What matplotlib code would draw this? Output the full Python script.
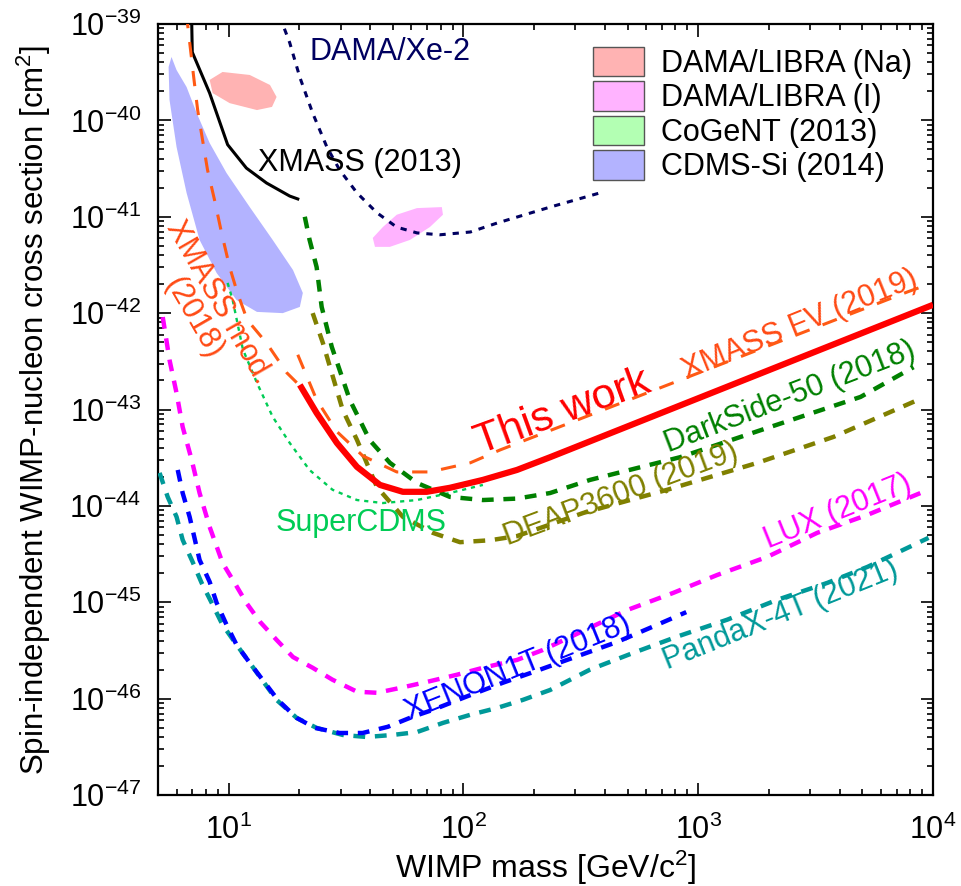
import matplotlib
matplotlib.use("Agg")
import matplotlib.pyplot as plt
from matplotlib.patches import Patch
from matplotlib.ticker import LogLocator, FixedLocator, FixedFormatter, NullFormatter

plt.rcParams['font.family'] = ['Liberation Sans', 'DejaVu Sans']
plt.rcParams['mathtext.fontset'] = 'custom'
plt.rcParams['mathtext.rm'] = 'Liberation Sans'
plt.rcParams['mathtext.default'] = 'regular'
plt.rcParams['lines.scale_dashes'] = False

# exclusion limits: WIMP mass [GeV/c^2], cross section [cm^2]
this_work_m = [20.1, 23.7, 28.9, 35.2, 44.1, 55.2, 69.8, 87.5, 121, 169, 234, 10000]
this_work_s = [1.8e-43, 9.2e-44, 4.5e-44, 2.54e-44, 1.65e-44, 1.40e-44, 1.40e-44,
               1.54e-44, 1.86e-44, 2.36e-44, 3.2e-44, 1.22e-42]

xmass_mod_m = [6.6, 7.1, 7.38, 7.74, 8.13, 8.71, 9.33, 10.1, 10.9, 12.0, 14.5, 17.7, 19.5]
xmass_mod_s = [1.3e-39, 2.8e-40, 1.28e-40, 6.3e-41, 3.06e-41, 1.49e-41, 6.8e-42, 3.0e-42,
               1.62e-42, 8.5e-43, 4.9e-43, 2.4e-43, 1.9e-43]

xmass_fv_m = [19.7, 23.7, 28.9, 37.3, 52, 72, 107, 143, 7780, 8850]
xmass_fv_s = [3.7e-43, 1.26e-43, 5.9e-44, 3.3e-44, 2.25e-44, 2.25e-44, 2.8e-44, 3.8e-44,
              1.66e-42, 1.86e-42]

xmass13_m = [6.95, 7.0, 8.3, 9.9, 11.9, 14.5, 18.2, 19.7]
xmass13_s = [1.3e-39, 5.1e-40, 1.92e-40, 5.6e-41, 3.2e-41, 2.24e-41, 1.64e-41, 1.53e-41]

dama_xe_m = [16.5, 18.2, 20.1, 22.8, 26.2, 29.7, 35.2, 42.8, 52, 63.4, 79.4, 107, 139, 234, 382]
dama_xe_s = [1.2e-39, 6.4e-40, 2.8e-40, 1.19e-40, 5.3e-41, 3.06e-41, 1.77e-41, 1.1e-41, 7.8e-42,
             6.8e-42, 6.5e-42, 6.95e-42, 8.6e-42, 1.26e-41, 1.77e-41]

darkside_m = [21.1, 22.1, 23.7, 24.9, 27.5, 32.8, 39.9, 48.6, 63.4, 87.5, 121, 169, 234, 346,
              837, 2030, 4910, 8260]
darkside_s = [1.0e-41, 5.8e-42, 3.0e-42, 1.16e-42, 4.46e-43, 1.26e-43, 4.8e-44, 2.8e-44,
              1.73e-44, 1.24e-44, 1.15e-44, 1.19e-44, 1.36e-44, 1.86e-44, 3.2e-44, 6.6e-44,
              1.35e-43, 2.75e-43]

deap_m = [22.8, 25.2, 27.8, 30.6, 35.2, 42.8, 55.2, 74.1, 96.7, 130, 169, 324, 738, 1790,
          3770, 9020]
deap_s = [1.0e-42, 4.9e-43, 2.18e-43, 9.9e-44, 4.84e-44, 1.57e-44, 7.7e-45, 5.25e-45,
          4.2e-45, 4.4e-45, 4.86e-45, 8.45e-45, 1.47e-44, 2.8e-44, 5.2e-44, 1.32e-43]

supercdms_m = [9.9, 10.4, 11.5, 13.2, 15.4, 18.2, 22.1, 27.7, 35.2, 45.4, 63.4, 87.5, 121]
supercdms_s = [2.06e-42, 1.37e-42, 4.2e-43, 1.89e-43, 8.4e-44, 4.5e-44, 2.36e-44, 1.47e-44,
               1.15e-44, 1.07e-44, 1.15e-44, 1.36e-44, 1.65e-44]

lux_m = [5.24, 5.6, 6.0, 6.37, 6.96, 7.52, 8.3, 9.42, 10.6, 11.9, 13.6, 16.0, 18.8, 22.8,
         27.7, 35.2, 42.8, 53.6, 69.8, 93.8, 121, 169, 218, 498, 782, 1205, 1970, 3210,
         5260, 9100]
lux_s = [9.1e-43, 3.27e-43, 1.48e-43, 6.6e-44, 3.0e-44, 1.36e-44, 6.05e-45, 2.56e-45,
         1.59e-45, 9.85e-46, 6.27e-46, 4.07e-46, 2.7e-46, 2.09e-46, 1.57e-46, 1.18e-46,
         1.15e-46, 1.29e-46, 1.49e-46, 1.77e-46, 2.09e-46, 2.52e-46, 3.2e-46, 8.3e-46,
         1.25e-45, 1.92e-45, 2.96e-45, 5.25e-45, 8.07e-45, 1.4e-44]

xenon_m = [6.07, 6.37, 6.82, 7.52, 8.3, 8.89, 9.8, 10.8, 12.3, 16.2, 19.5, 23.3, 29.7,
           37.2, 47.6, 60.9, 74.1, 103, 147, 212, 452, 668, 889]
xenon_s = [2.36e-44, 1.36e-44, 7.7e-45, 2.75e-45, 1.63e-45, 9.85e-46, 5.83e-46, 3.63e-46,
           2.35e-46, 9.7e-47, 6.3e-47, 4.97e-47, 4.4e-47, 4.4e-47, 5.1e-47, 6.5e-47,
           7.65e-47, 1.05e-46, 1.46e-46, 2.0e-46, 3.88e-46, 5.83e-46, 7.9e-46]

pandax_m = [5.08, 5.5, 6.0, 6.37, 7.02, 7.67, 8.47, 9.42, 10.8, 12.3, 16.0, 19.5, 23.7,
            30.6, 38.7, 50, 63.4, 81.8, 107, 139, 179, 234, 346, 528, 813, 1330, 2170,
            3550, 5260, 9570]
pandax_s = [2.2e-44, 1.24e-44, 7.7e-45, 4.44e-45, 2.63e-45, 1.59e-45, 9.85e-46, 5.83e-46,
            3.63e-46, 2.35e-46, 9.7e-47, 6.3e-47, 4.97e-47, 4.2e-47, 4.0e-47, 4.2e-47,
            4.5e-47, 5.6e-47, 6.8e-47, 8.0e-47, 9.7e-47, 1.23e-46, 2.0e-46, 2.98e-46,
            4.4e-46, 6.6e-46, 1.06e-45, 1.59e-45, 2.33e-45, 4.66e-45]

# allowed regions (closed contours)
dama_na_m = [8.3, 9.42, 12.3, 15.0, 16.0, 15.3, 13.2, 10.1, 8.55]
dama_na_s = [2.63e-40, 3.18e-40, 2.96e-40, 2.33e-40, 1.75e-40, 1.38e-40, 1.28e-40, 1.51e-40, 1.92e-40]

dama_i_m = [41.1, 45.4, 52, 63.4, 80.9, 81.8, 72, 59.2, 48.6, 42]
dama_i_s = [6.03e-42, 7.83e-42, 1.05e-41, 1.23e-41, 1.26e-41, 1.05e-41, 7.83e-42, 5.75e-42,
            4.87e-42, 4.87e-42]

cogent_m = [6.95, 7.52, 8.47, 8.98, 8.71, 7.91, 7.16]
cogent_s = [4.6e-41, 4.17e-41, 3.29e-41, 2.59e-41, 2.52e-41, 2.92e-41, 3.61e-41]

cdms_si_m = [5.71, 6.0, 6.62, 7.31, 8.3, 9.8, 12.3, 15.4, 18.8, 20.7, 20.1, 17.0, 13.2,
             10.8, 8.89, 7.52, 6.62, 6.0, 5.6, 5.55]
cdms_si_s = [4.55e-40, 3.33e-40, 2.22e-40, 1.19e-40, 5.83e-41, 2.84e-41, 1.26e-41, 5.75e-42,
             2.8e-42, 1.62e-42, 1.16e-42, 1.0e-42, 1.03e-42, 1.37e-42, 2.61e-42, 5.75e-42,
             1.77e-41, 5.3e-41, 1.63e-40, 3.58e-40]

region_labels = ['DAMA/LIBRA (Na)', 'DAMA/LIBRA (I)', 'CoGeNT (2013)', 'CDMS-Si (2014)']
region_colors = ['#ffb3b3', '#ffb3ff', '#b3ffb3', '#b3b3ff']

xticks = [1e1, 1e2, 1e3, 1e4]
xticklabels = ['$10^{1}$', '$10^{2}$', '$10^{3}$', '$10^{4}$']
yticks = [10.0 ** e for e in range(-47, -38)]
yticklabels = ['$10^{%d}$' % e for e in range(-47, -38)]

FS = 22

fig = plt.figure(figsize=(9.62, 8.86), dpi=100)
ax = fig.add_axes([0.1642, 0.1027, 0.8057, 0.8702])
ax.set_xscale('log')
ax.set_yscale('log')
ax.set_xlim(5, 1e4)
ax.set_ylim(1e-47, 1e-39)

# regions
for (m, s), c in zip([(dama_na_m, dama_na_s), (dama_i_m, dama_i_s),
                      (cogent_m, cogent_s), (cdms_si_m, cdms_si_s)], region_colors):
    ax.fill(m, s, color=c, lw=0, zorder=1)

# limit curves
ax.plot(dama_xe_m, dama_xe_s, color='#000060', lw=2.2, dashes=(4.5, 5), zorder=3)
ax.plot(xmass13_m, xmass13_s, color='black', lw=2.2, zorder=3)
ax.plot(supercdms_m, supercdms_s, color='#00cc55', lw=1.7, dashes=(3, 3.5), zorder=3)
ax.plot(darkside_m, darkside_s, color='#008000', lw=3.2, dashes=(8.5, 7), zorder=3)
ax.plot(deap_m, deap_s, color='#808000', lw=3.2, dashes=(8.5, 7), zorder=3)
ax.plot(lux_m, lux_s, color='#ff00ff', lw=3.2, dashes=(8.5, 7), zorder=3)
ax.plot(pandax_m, pandax_s, color='#009999', lw=3.2, dashes=(8.5, 7), zorder=3)
ax.plot(xenon_m, xenon_s, color='#0000ff', lw=3.2, dashes=(8.5, 7), zorder=3)
ax.plot(xmass_mod_m, xmass_mod_s, color='#ff5a14', lw=2.2, dashes=(11, 10), zorder=4)
ax.plot(xmass_fv_m, xmass_fv_s, color='#ff5a14', lw=2.2, dashes=(11, 10), zorder=4)
ax.plot(this_work_m, this_work_s, color='#ff0000', lw=4.5, zorder=5,
        solid_capstyle='butt')

# curve labels
ax.text(22.1, 5.1e-40, 'DAMA/Xe-2', color='#000060', fontsize=FS, va='center')
ax.text(13.3, 3.6e-41, 'XMASS (2013)', color='black', fontsize=FS, va='center')
ax.text(8.0, 1.08e-42, 'XMASS mod.\n(2018)', color='#ff4a14', fontsize=FS,
        rotation=-60, ha='center', va='center', multialignment='center',
        linespacing=1.0, rotation_mode='anchor')
ax.text(265, 9.4e-44, 'This work', color='#ff0000', fontsize=31, rotation=20,
        ha='center', va='center', rotation_mode='anchor')
ax.text(2720, 7.55e-43, 'XMASS FV (2019)', color='#ff4a14', fontsize=FS, rotation=22,
        ha='center', va='center', rotation_mode='anchor')
ax.text(2470, 1.35e-43, 'DarkSide-50 (2018)', color='#008000', fontsize=FS, rotation=21,
        ha='center', va='center', rotation_mode='anchor')
ax.text(470, 1.3e-44, 'DEAP3600 (2019)', color='#808000', fontsize=FS, rotation=20.5,
        ha='center', va='center', rotation_mode='anchor')
ax.text(15.9, 6.67e-45, 'SuperCDMS', color='#00cc55', fontsize=FS, va='center')
ax.text(3950, 8.67e-45, 'LUX (2017)', color='#ff00ff', fontsize=FS, rotation=22,
        ha='center', va='center', rotation_mode='anchor')
ax.text(171, 2.09e-46, 'XENON1T (2018)', color='#0000ff', fontsize=FS, rotation=22,
        ha='center', va='center', rotation_mode='anchor')
ax.text(2240, 7.41e-46, 'PandaX-4T (2021)', color='#009999', fontsize=FS, rotation=22,
        ha='center', va='center', rotation_mode='anchor')

# legend for the allowed regions
handles = [Patch(facecolor=c, edgecolor='#555555', lw=1.0, label=l)
           for c, l in zip(region_colors, region_labels)]
ax.legend(handles=handles, loc='upper right', bbox_to_anchor=(1.0, 0.998),
          frameon=False, fontsize=FS, handlelength=1.65, handleheight=1.1,
          handletextpad=0.55, labelspacing=0.08, borderaxespad=0.3)

# axes and ticks
ax.xaxis.set_major_locator(FixedLocator(xticks))
ax.xaxis.set_major_formatter(FixedFormatter(xticklabels))
ax.xaxis.set_minor_locator(LogLocator(base=10, subs=range(2, 10), numticks=20))
ax.xaxis.set_minor_formatter(NullFormatter())
ax.yaxis.set_major_locator(FixedLocator(yticks))
ax.yaxis.set_major_formatter(FixedFormatter(yticklabels))
ax.yaxis.set_minor_locator(LogLocator(base=10, subs=range(2, 10), numticks=20))
ax.yaxis.set_minor_formatter(NullFormatter())
ax.tick_params(which='both', direction='in', top=True, right=True, width=1.2,
               labelsize=FS)
ax.tick_params(which='major', length=9)
ax.tick_params(which='minor', length=4.5)
ax.tick_params(axis='x', pad=14)
ax.tick_params(axis='y', pad=12)
for sp in ax.spines.values():
    sp.set_linewidth(1.6)

ax.set_xlabel('WIMP mass [GeV/c$^{2}$]', fontsize=23, labelpad=2)
ax.set_ylabel('Spin-independent WIMP-nucleon cross section [cm$^{2}$]', fontsize=22.5,
              labelpad=12)

fig.savefig('out.png', dpi=100)
